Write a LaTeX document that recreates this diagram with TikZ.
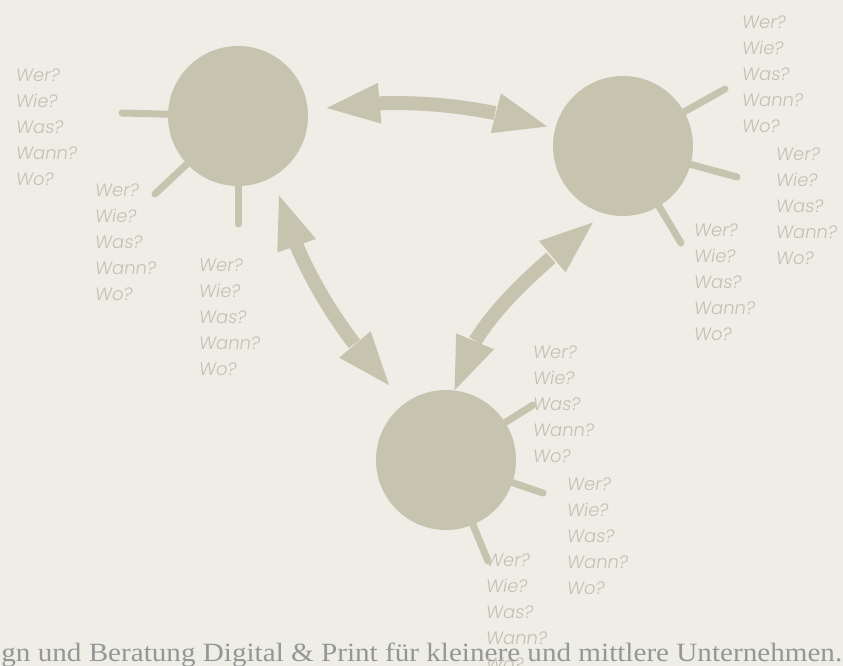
\documentclass[tikz,border=0pt]{standalone}
\usepackage{fontspec}
\usepackage{graphicx}
\usetikzlibrary{arrows.meta,bending}
\setmainfont{Liberation Serif}
\newfontfamily\handfont{Poppins Light}[FakeSlant=0.15]
\definecolor{paper}{RGB}{238,237,230}
\definecolor{sand}{RGB}{198,195,175}
\definecolor{askgrey}{RGB}{200,191,180}
\definecolor{footgrey}{RGB}{150,150,150}
\newcommand{\fragen}{Wer?\\Wie?\\Was?\\Wann?\\Wo?}

\begin{document}
\begin{tikzpicture}[x=0.02cm, y=0.02cm,
    hub/.style={circle, fill=sand, minimum size=2.8cm, inner sep=0pt},
    ray/.style={sand, line width=0.14cm, line cap=round},
    link/.style={sand, line width=0.28cm,
                 {Triangle[length=1.06cm, width=0.82cm, line width=0pt]}-{Triangle[length=1.06cm, width=0.82cm, line width=0pt]}},
    ask/.style={anchor=north west, inner sep=0pt, align=left, text=askgrey,
                font=\handfont\fontsize{10.2}{14.9}\selectfont}
]
    \useasboundingbox (0,0) rectangle (843,-666);
    \clip (0,0) rectangle (843,-666);
    \fill[paper] (0,0) rectangle (843,-666);

    \node[anchor=base west, inner sep=0pt, text=footgrey] (slogan) at (1,-661)
        {\resizebox{16.82cm}{\height}{\fontsize{15}{16}\selectfont gn und Beratung Digital \& Print für kleinere und mittlere Unternehmen.}};

    \node[ask] (qL1) at (15,-68)  {\fragen};
    \node[ask] (qL2) at (94,-183) {\fragen};
    \node[ask] (qL3) at (198,-258) {\fragen};
    \node[ask] (qR1) at (741,-15) {\fragen};
    \node[ask] (qR2) at (775,-147) {\fragen};
    \node[ask] (qR3) at (693,-223) {\fragen};
    \node[ask] (qB1) at (532,-345) {\fragen};
    \node[ask] (qB2) at (566,-477) {\fragen};
    \node[ask] (qB3) at (485,-553) {\fragen};

    \node[hub] (hubL) at (238,-116) {};
    \node[hub] (hubR) at (623,-146) {};
    \node[hub] (hubB) at (446,-460) {};

    \coordinate (rL1) at (122,-113);
    \coordinate (rL2) at (155,-194);
    \coordinate (rL3) at (238,-224);
    \coordinate (rR1) at (725,-89);
    \coordinate (rR2) at (737,-177);
    \coordinate (rR3) at (681,-243);
    \coordinate (rB1) at (533,-405);
    \coordinate (rB2) at (543,-493);
    \coordinate (rB3) at (488,-561);

    \foreach \h/\r in {hubL/rL1, hubL/rL2, hubL/rL3, hubR/rR1, hubR/rR2, hubR/rR3, hubB/rB1, hubB/rB2, hubB/rB3}
        \draw[ray] (\h) -- (\r);

    \draw[link, shorten <=0.38cm, shorten >=0.16cm] (hubL.4) .. controls +(85,16) and +(-75,25) .. (hubR.166);
    \draw[link, shorten <=0.4cm, shorten >=0.48cm] (hubL.-59) .. controls +(20,-90) and +(-60,60) .. (hubB.125);
    \draw[link, shorten <=0.28cm] (hubR.-106) .. controls +(-60,-50) and +(15,70) .. (hubB.83);
\end{tikzpicture}
\end{document}
